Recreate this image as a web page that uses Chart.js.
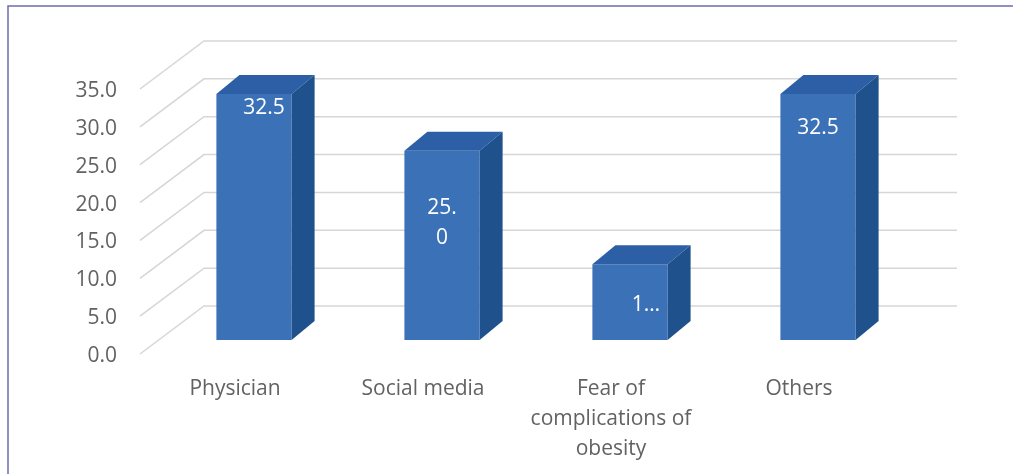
<!DOCTYPE html>
<html>
<head>
<meta charset="utf-8">
<script src="https://cdn.jsdelivr.net/npm/chart.js@4.4.1/dist/chart.umd.min.js"></script>
<style>
  html, body { margin: 0; padding: 0; background: #fff; }
  #wrap { width: 1013px; height: 474px; }
</style>
</head>
<body>
<div id="wrap"><canvas id="grafico" width="1013" height="474"></canvas></div>
<script>
// Datos
const categorias = ['Physician', 'Social media', ['Fear of', 'complications of', 'obesity'], 'Others'];
const valores = [32.5, 25.0, 10.0, 32.5];
// Texto de las etiquetas tal como aparece (recortado en el original)
const textoEtiquetas = ['32.5', ['25.', '0'], '1\u2026', '32.5'];
const marcasY = [0, 5, 10, 15, 20, 25, 30, 35];

// Estilo
const fuente = "'Open Sans', 'DejaVu Sans', sans-serif";
const colorTexto = '#626262';
const colorFrente = '#3b71b7';
const colorArriba = '#2c5fa5';
const colorLado = '#1f528c';
const colorRejilla = '#d6d6d6';
const colorBorde = '#6c6cae';
// profundidad de las barras y de las paredes
const prof = { dx: 23, dy: -19 };
const pared = { frenteX: -20, frenteY: 14, fondoX: 44, fondoY: -34 };
// posicion de las etiquetas dentro de cada barra (fraccion desde arriba) y ajuste en x
const etiquetaFrac = [0.057, 0.38, 0.54, 0.138];
const etiquetaDx = [10, 0, 16, 0];

const fondoYBorde = {
    id: 'fondoYBorde',
    beforeDraw(chart) {
        const c = chart.ctx;
        c.save();
        c.fillStyle = '#fff';
        c.fillRect(0, 0, chart.width, chart.height);
        c.strokeStyle = colorBorde;
        c.lineWidth = 1.5;
        c.beginPath();
        c.moveTo(8, chart.height);
        c.lineTo(8, 6);
        c.lineTo(chart.width, 6);
        c.stroke();
        c.restore();
    }
};

// Rejilla en 3D: pared izquierda (diagonales) y pared del fondo
const rejilla3d = {
    id: 'rejilla3d',
    beforeDatasetsDraw(chart) {
        const c = chart.ctx;
        const y = chart.scales.y;
        const area = chart.chartArea;
        c.save();
        c.strokeStyle = colorRejilla;
        c.lineWidth = 1.5;
        marcasY.forEach(v => {
            const py = y.getPixelForValue(v);
            c.beginPath();
            c.moveTo(area.left + pared.frenteX, py + pared.frenteY);
            c.lineTo(area.left + pared.fondoX, py + pared.fondoY);
            c.lineTo(area.right + pared.fondoX + 1, py + pared.fondoY);
            c.stroke();
        });
        c.restore();
    }
};

// Caras superior y lateral de cada barra, y etiquetas de valor
const barras3d = {
    id: 'barras3d',
    afterDatasetsDraw(chart) {
        const c = chart.ctx;
        const meta = chart.getDatasetMeta(0);
        c.save();
        meta.data.forEach((bar, i) => {
            const x0 = bar.x - bar.width / 2;
            const x1 = bar.x + bar.width / 2;
            const top = bar.y;
            const base = bar.base;
            c.fillStyle = colorArriba;
            c.beginPath();
            c.moveTo(x0, top);
            c.lineTo(x1, top);
            c.lineTo(x1 + prof.dx, top + prof.dy);
            c.lineTo(x0 + prof.dx, top + prof.dy);
            c.closePath();
            c.fill();
            c.fillStyle = colorLado;
            c.beginPath();
            c.moveTo(x1, top);
            c.lineTo(x1 + prof.dx, top + prof.dy);
            c.lineTo(x1 + prof.dx, base + prof.dy);
            c.lineTo(x1, base);
            c.closePath();
            c.fill();

            const txt = [].concat(textoEtiquetas[i]);
            const cy = top + etiquetaFrac[i] * (base - top) - (txt.length - 1) * 15;
            c.fillStyle = '#fff';
            c.font = '21px ' + fuente;
            c.textAlign = 'center';
            c.textBaseline = 'middle';
            txt.forEach((t, k) => {
                c.fillText(t, bar.x + etiquetaDx[i], cy + k * 30);
            });
        });
        c.restore();
    }
};

new Chart(document.getElementById('grafico'), {
    type: 'bar',
    data: {
        labels: categorias,
        datasets: [{
            data: valores,
            backgroundColor: colorFrente,
            borderWidth: 0,
            categoryPercentage: 1,
            barPercentage: 0.4
        }]
    },
    options: {
        responsive: false,
        animation: false,
        layout: { padding: { left: 10, right: 101, top: 75, bottom: 0 } },
        plugins: {
            legend: { display: false },
            tooltip: { enabled: false }
        },
        scales: {
            x: {
                grid: { display: false, drawTicks: false },
                border: { display: false },
                afterFit: s => { s.height = 134; },
                ticks: {
                    color: colorTexto,
                    font: { family: fuente, size: 21, lineHeight: 1.43 },
                    padding: 34,
                    labelOffset: -19,
                    maxRotation: 0,
                    autoSkip: false
                }
            },
            y: {
                min: 0,
                max: 35,
                grid: { display: false, drawTicks: false },
                border: { display: false },
                afterFit: s => { s.width = 150; },
                ticks: {
                    stepSize: 5,
                    color: colorTexto,
                    font: { family: fuente, size: 21 },
                    padding: 43,
                    labelOffset: 16,
                    callback: v => v.toFixed(1)
                }
            }
        }
    },
    plugins: [fondoYBorde, rejilla3d, barras3d]
});
</script>
</body>
</html>
